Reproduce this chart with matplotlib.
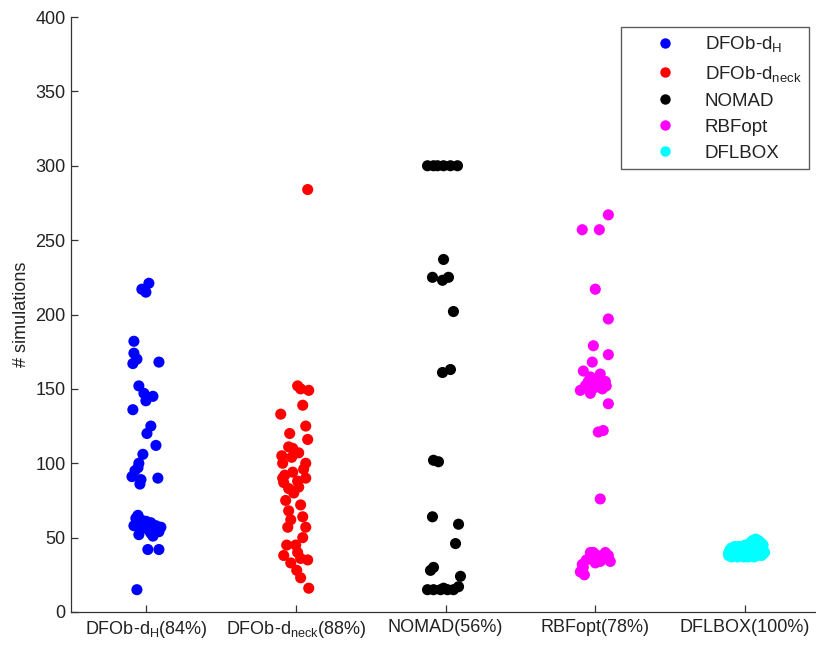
import matplotlib
matplotlib.use("Agg")
import matplotlib.pyplot as plt
from matplotlib.lines import Line2D

plt.rcParams["font.family"] = ["Liberation Sans", "DejaVu Sans"]
plt.rcParams["mathtext.default"] = "regular"

# Solver names, success rates and legend labels
categories = ["DFOb-d$_H$(84%)", "DFOb-d$_{neck}$(88%)", "NOMAD(56%)",
              "RBFopt(78%)", "DFLBOX(100%)"]
legend_labels = ["DFOb-d$_H$", "DFOb-d$_{neck}$", "NOMAD", "RBFopt", "DFLBOX"]
colors = ["#0000ff", "#ff0000", "#000000", "#ff00ff", "#00ffff"]

# Number of simulations per successful run, with horizontal jitter offsets
dfob_h_sims = [217, 221, 215, 182, 174, 167, 168, 152, 147, 142, 136, 125, 120,
               112, 106, 100, 95, 91, 90, 86, 63, 62, 61, 60, 58, 58, 56, 55, 54,
               52, 51, 57, 42, 42, 15, 65, 59, 170, 145, 89, 97, 53]
dfob_h_jit = [-0.027, 0.02, 0.0, -0.08, -0.08, -0.087, 0.087, -0.047, -0.013,
              0.0, -0.087, 0.033, 0.007, 0.067, -0.02, -0.047, -0.073, -0.093,
              0.08, -0.04, -0.067, -0.033, 0.0, 0.033, 0.067, -0.08, -0.033,
              0.02, 0.087, -0.047, 0.047, 0.1, 0.013, 0.087, -0.06, -0.053,
              -0.013, -0.06, 0.047, -0.033, -0.053, 0.033]

dfob_neck_sims = [284, 152, 149, 150, 139, 133, 125, 116, 111, 107, 100, 100,
                  104, 94, 87, 90, 88, 83, 84, 90, 68, 64, 57, 50, 45, 38, 33,
                  35, 40, 23, 16, 75, 72, 110, 96, 45, 28, 120, 92, 57, 80, 36,
                  62, 105]
dfob_neck_jit = [0.08, 0.013, 0.087, 0.033, 0.047, -0.1, 0.067, 0.08, -0.047,
                 0.02, -0.087, 0.067, -0.027, -0.02, -0.08, 0.067, 0.013,
                 -0.047, 0.02, -0.087, -0.047, 0.047, -0.053, 0.047, 0.0,
                 -0.08, -0.033, 0.08, 0.013, 0.033, 0.087, -0.067, 0.033,
                 -0.02, 0.053, -0.06, 0.007, -0.04, -0.073, 0.067, -0.013,
                 0.033, -0.033, -0.093]

nomad_sims = [300, 300, 300, 300, 300, 300, 237, 225, 223, 225, 202, 161, 163,
              102, 101, 64, 59, 46, 30, 28, 24, 15, 15, 15, 15, 15, 17, 16]
nomad_jit = [-0.12, -0.08, -0.013, 0.033, 0.08, -0.053, -0.013, -0.087, -0.02,
             0.02, 0.053, -0.02, 0.033, -0.08, -0.047, -0.087, 0.087, 0.067,
             -0.08, -0.1, 0.1, -0.12, -0.08, -0.033, 0.013, 0.053, 0.087,
             -0.013]

rbfopt_sims = [267, 257, 257, 217, 197, 179, 173, 168, 162, 158, 160, 155, 152,
               151, 149, 147, 150, 155, 140, 121, 122, 76, 40, 38, 36, 34, 35,
               30, 27, 33, 40, 36, 34, 25, 38, 155, 40, 32, 152]
rbfopt_jit = [0.087, -0.087, 0.027, 0.0, 0.087, -0.013, 0.087, -0.02, -0.08,
              -0.033, 0.033, 0.067, -0.067, 0.0, -0.1, -0.033, 0.047, 0.013,
              0.087, 0.02, 0.053, 0.033, -0.033, 0.013, 0.053, 0.1, -0.06,
              -0.08, -0.1, 0.0, 0.067, -0.02, 0.033, -0.073, 0.087, -0.047,
              -0.013, -0.087, 0.073]

dflbox_sims = [40, 38, 43, 37, 41, 44, 39, 37, 42, 44, 40, 38, 43, 37, 41, 45,
               39, 43, 46, 38, 41, 44, 48, 37, 40, 46, 49, 42, 38, 45, 48, 40,
               43, 46, 38, 42, 45, 40, 47, 40, 42, 39, 37, 44, 47, 39, 41, 47,
               38, 42]
dflbox_jit = [-0.11, -0.11, -0.09, -0.09, -0.08, -0.07, -0.07, -0.05, -0.05,
              -0.04, -0.03, -0.03, -0.02, -0.01, 0.0, 0.0, 0.01, 0.02, 0.03,
              0.03, 0.04, 0.05, 0.05, 0.06, 0.06, 0.07, 0.07, 0.08, 0.08, 0.09,
              0.09, 0.1, 0.1, 0.11, 0.11, 0.12, 0.12, 0.13, 0.04, -0.06, -0.1,
              -0.02, 0.02, 0.06, 0.1, 0.12, -0.04, 0.08, 0.0, 0.03]

series = [(dfob_h_sims, dfob_h_jit), (dfob_neck_sims, dfob_neck_jit),
          (nomad_sims, nomad_jit), (rbfopt_sims, rbfopt_jit),
          (dflbox_sims, dflbox_jit)]

TXT = "#222222"
fig = plt.figure(figsize=(8.16, 6.46), dpi=100)
ax = fig.add_axes([71 / 816, 34 / 646, 749 / 816, 595 / 646])

for i, ((sims, jit), col, lab) in enumerate(zip(series, colors, legend_labels)):
    xs = [i + 1 + j for j in jit]
    ax.scatter(xs, sims, s=64, color=col, edgecolors="none", label=lab,
               zorder=3)

ax.set_xlim(0.5, 5.5)
ax.set_ylim(0, 400)
ax.set_xticks(range(1, 6))
ax.set_xticklabels(categories, fontsize=13.5)
ax.set_yticks(range(0, 401, 50))
ax.set_ylabel("# simulations", fontsize=13, color=TXT, labelpad=4)

for side in ("top", "right"):
    ax.spines[side].set_visible(False)
for side in ("left", "bottom"):
    ax.spines[side].set_color("#333333")
    ax.spines[side].set_linewidth(0.9)
ax.tick_params(direction="in", length=5, width=0.9, color="#333333",
               labelsize=13, labelcolor=TXT)
ax.tick_params(axis="x", pad=5)
ax.tick_params(axis="y", pad=4)

handles = [Line2D([], [], marker="o", linestyle="none", markersize=7.5,
                  markerfacecolor=c, markeredgecolor="none") for c in colors]
leg = fig.legend(handles, legend_labels, loc="upper right",
                 bbox_to_anchor=(809 / 816, 1 - 27 / 646), fontsize=13.5,
                 frameon=True, fancybox=False, borderpad=0.4,
                 labelspacing=0.48, handletextpad=0.15, handlelength=3.9,
                 borderaxespad=0)
leg.get_frame().set_edgecolor("#333333")
leg.get_frame().set_linewidth(1.0)
for t in leg.get_texts():
    t.set_color(TXT)

fig.savefig("out.png", dpi=100)
